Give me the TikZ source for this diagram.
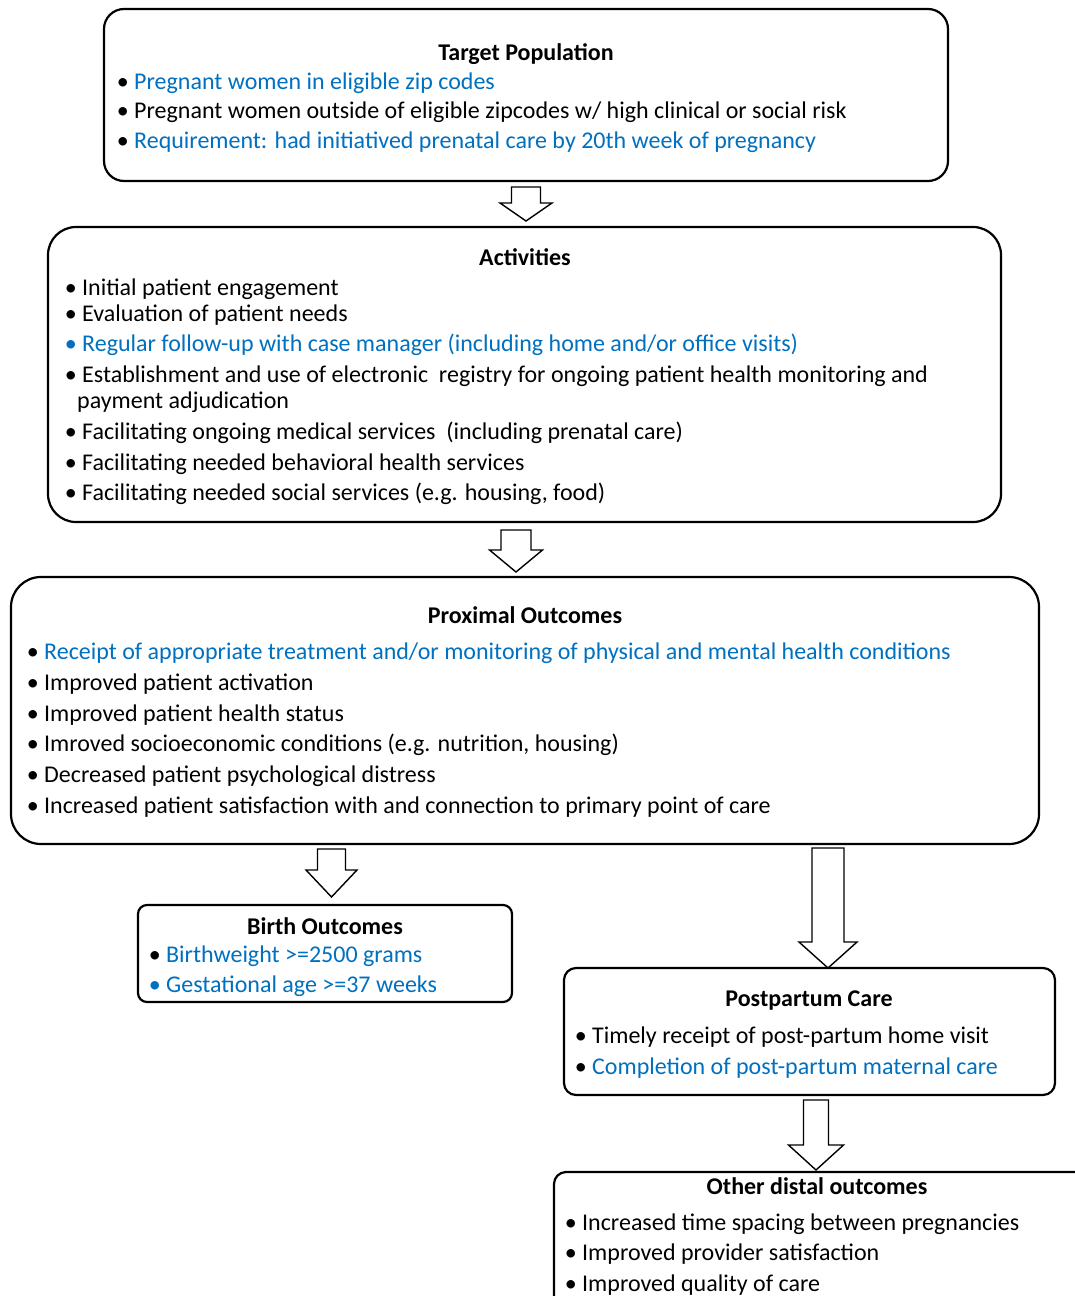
\documentclass[tikz,border=0pt]{standalone}
\usepackage{fontspec}
\setmainfont{Carlito}
\definecolor{ablue}{RGB}{0,112,192}
\tikzset{
  box/.style={draw,line width=2.2pt},
  lbl/.style={anchor=base west,inner sep=0pt,font=\fontsize{24}{28}\selectfont},
  ttl/.style={anchor=base,inner sep=0pt,font=\fontsize{24}{28}\selectfont\bfseries},
  barrow/.style={draw,line width=1.4pt,fill=white,line join=miter}
}
\newcommand\bul[6]{\node[lbl] (#1) at (#2,#3) {\textcolor{#4}{\textbullet}\ \textcolor{#5}{#6}};}
\newcommand\barr[6]{\draw[barrow] ({#1-#5},#2) -- ({#1+#5},#2) -- ({#1+#5},#3) -- ({#1+#6},#3) -- (#1,#4) -- ({#1-#6},#3) -- ({#1-#5},#3) -- cycle;}
\begin{document}
\begin{tikzpicture}[x=1pt,y=-1pt]
\clip (0,0) rectangle (1075,1296);
\fill[white] (0,0) rectangle (1075,1296);
% Target population
\draw[box,rounded corners=20pt] (104,9) rectangle (948,181);
\node[ttl] (tt) at (526,60) {Target Population};
\bul{t1}{116.6}{89}{black}{ablue}{Pregnant women in eligible zip codes}
\bul{t2}{116.6}{118}{black}{black}{Pregnant women outside of eligible zipcodes w/ high clinical or social risk}
\bul{t3}{116.6}{148}{black}{ablue}{Requirement: had initiatived prenatal care by 20th week of pregnancy}
\barr{526}{187}{203}{221}{14.5}{26}
% Activities
\draw[box,rounded corners=28pt] (48,227) rectangle (1001,522);
\node[ttl] (at) at (525,265) {Activities};
\bul{a1}{64.6}{295}{black}{black}{Initial patient engagement}
\bul{a2}{64.6}{321}{black}{black}{Evaluation of patient needs}
\bul{a3}{64.6}{351}{ablue}{ablue}{Regular follow-up with case manager (including home and/or office visits)}
\bul{a4}{64.6}{382}{black}{black}{Establishment and use of electronic\ \ registry for ongoing patient health monitoring and}
\node[lbl] (a4b) at (77,408) {payment adjudication};
\bul{a5}{64.6}{439}{black}{black}{Facilitating ongoing medical services\ \ (including prenatal care)}
\bul{a6}{64.6}{470}{black}{black}{Facilitating needed behavioral health services}
\bul{a7}{64.6}{500}{black}{black}{Facilitating needed social services (e.g. housing, food)}
\barr{516}{530}{550}{572}{15}{26.5}
% Proximal outcomes
\draw[box,rounded corners=30pt] (11,577) rectangle (1039,844);
\node[ttl] (pt) at (525,623) {Proximal Outcomes};
\bul{p1}{26.6}{659}{black}{ablue}{Receipt of appropriate treatment and/or monitoring of physical and mental health conditions}
\bul{p2}{26.6}{690}{black}{black}{Improved patient activation}
\bul{p3}{26.6}{721}{black}{black}{Improved patient health status}
\bul{p4}{26.6}{751}{black}{black}{Imroved socioeconomic conditions (e.g. nutrition, housing)}
\bul{p5}{26.6}{782}{black}{black}{Decreased patient psychological distress}
\bul{p6}{26.6}{813}{black}{black}{Increased patient satisfaction with and connection to primary point of care}
\barr{331.5}{849}{870}{897}{14}{25.5}
\barr{828}{848}{942}{968}{16}{29}
% Birth outcomes
\draw[box,rounded corners=9pt] (138,905) rectangle (512,1002);
\node[ttl] (bt) at (325,934) {Birth Outcomes};
\bul{b1}{148.6}{962}{black}{ablue}{Birthweight >=2500 grams}
\bul{b2}{148.6}{992}{ablue}{ablue}{Gestational age >=37 weeks}
% Postpartum care
\draw[box,rounded corners=12pt] (564,968) rectangle (1055,1095);
\node[ttl] (ppt) at (809,1006) {Postpartum Care};
\bul{pp1}{574.6}{1043}{black}{black}{Timely receipt of post-partum home visit}
\bul{pp2}{574.6}{1074}{black}{ablue}{Completion of post-partum maternal care}
\barr{816}{1100}{1145}{1170}{12.5}{27.5}
% Other distal outcomes
\draw[box,rounded corners=12pt] (554,1172) rectangle (1110,1340);
\node[ttl] (ot) at (817,1194) {Other distal outcomes};
\bul{o1}{564.6}{1230}{black}{black}{Increased time spacing between pregnancies}
\bul{o2}{564.6}{1260}{black}{black}{Improved provider satisfaction}
\bul{o3}{564.6}{1291}{black}{black}{Improved quality of care}
\end{tikzpicture}
\end{document}
